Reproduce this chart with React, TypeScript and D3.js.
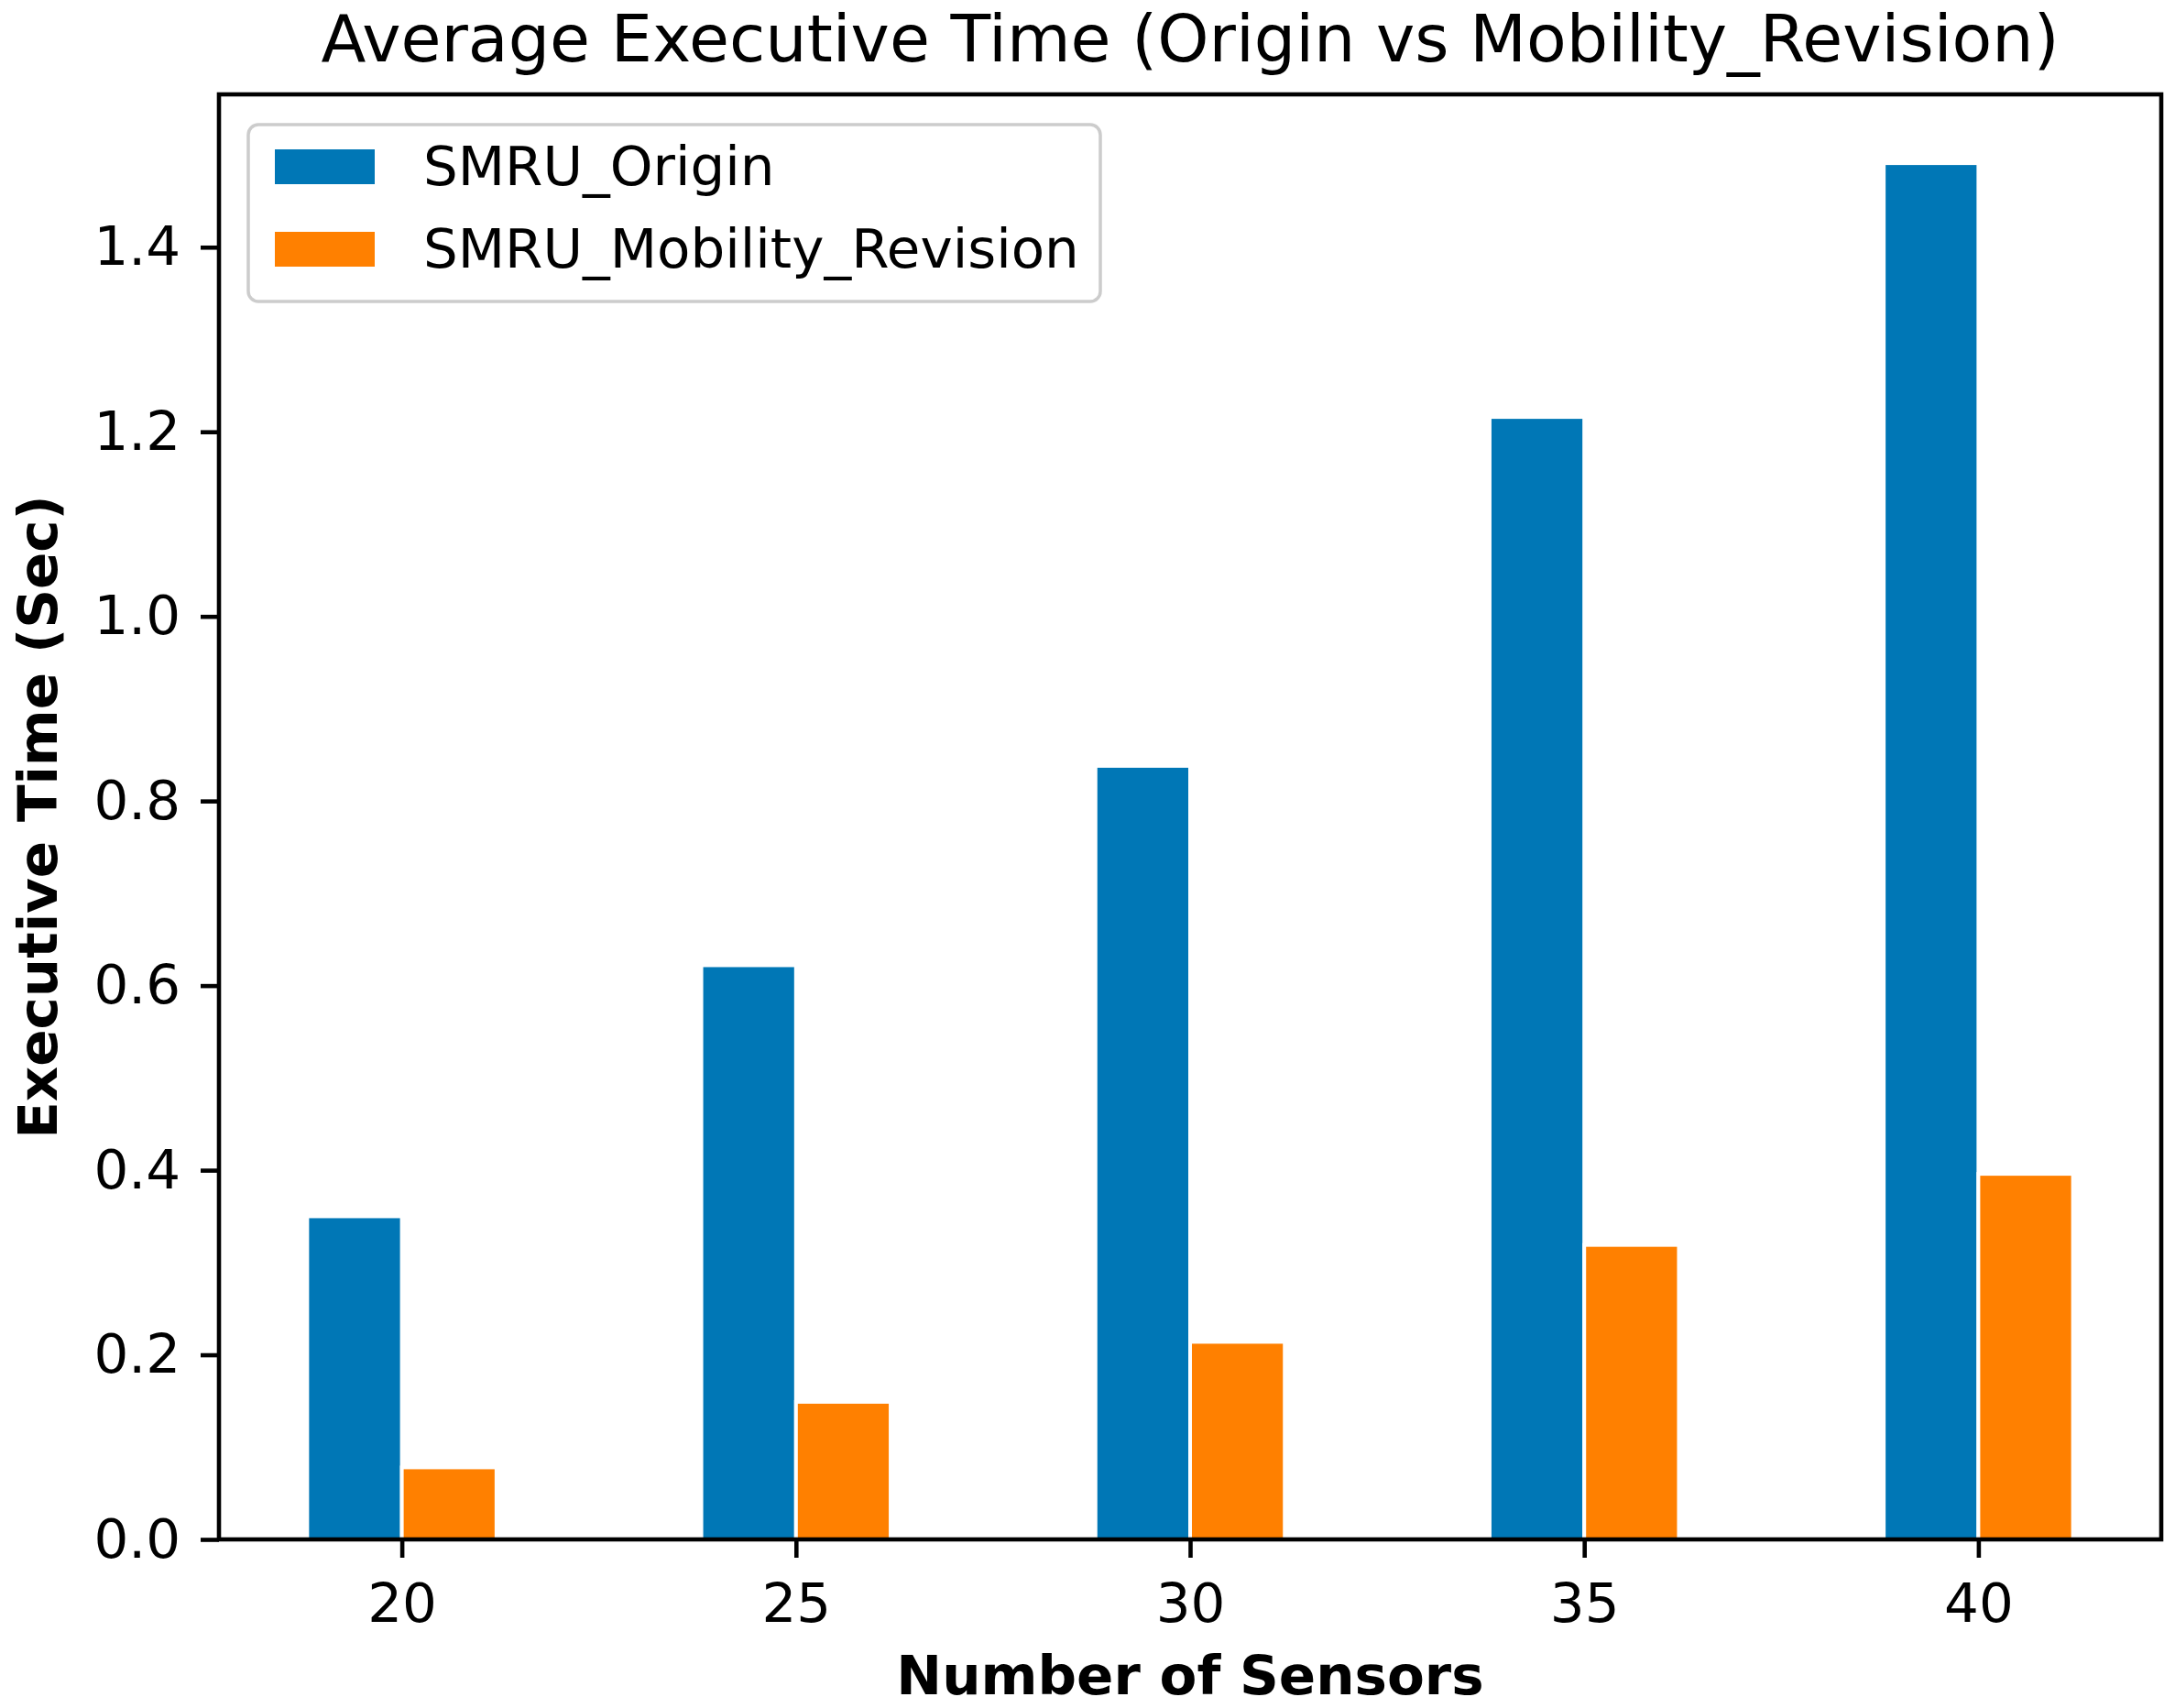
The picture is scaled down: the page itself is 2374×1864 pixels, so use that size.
import React, { useRef, useEffect } from "react";
import * as d3 from "d3";

const sensors = [20, 25, 30, 35, 40];
const originTimes = [0.35, 0.622, 0.838, 1.216, 1.491];
const mobilityTimes = [0.078, 0.149, 0.214, 0.319, 0.396];
const seriesNames = ["SMRU_Origin", "SMRU_Mobility_Revision"];
const seriesColors = ["#0077B6", "#FF8000"];
const yTicks = [0, 0.2, 0.4, 0.6, 0.8, 1.0, 1.2, 1.4];

const W = 2374;
const H = 1864;
const FONT = "DejaVu Sans";
const FS = 59.5;

const App = () => {
  const ref = useRef<SVGSVGElement | null>(null);

  useEffect(() => {
    if (!ref.current) return;
    const svg = d3.select(ref.current);
    svg.selectAll("*").remove();

    const margin = { top: 103, right: W - 2359, bottom: H - 1680, left: 239 };
    const innerW = W - margin.left - margin.right;
    const innerH = H - margin.top - margin.bottom;
    const barW = 1.2;

    // matplotlib-style 5% margins around the data
    const xMin = d3.min(sensors)! - barW;
    const xMax = d3.max(sensors)! + barW;
    const pad = (xMax - xMin) * 0.05;
    const x = d3
      .scaleLinear()
      .domain([xMin - pad, xMax + pad])
      .range([0, innerW]);

    const yMax = d3.max([...originTimes, ...mobilityTimes])! * 1.05;
    const y = d3.scaleLinear().domain([0, yMax]).range([innerH, 0]);

    const g = svg
      .append("g")
      .attr("transform", `translate(${margin.left},${margin.top})`);

    // bars: origin to the left of the tick, mobility to the right
    const series = [originTimes, mobilityTimes];
    series.forEach((vals, si) => {
      g.selectAll(`.bar-${si}`)
        .data(vals)
        .enter()
        .append("rect")
        .attr("class", `bar-${si}`)
        .attr("x", (_, i) => x(sensors[i] + (si === 0 ? -barW : 0)))
        .attr("width", x(barW) - x(0))
        .attr("y", (d) => y(d))
        .attr("height", (d) => innerH - y(d))
        .attr("fill", seriesColors[si])
        .attr("stroke", "#ffffff")
        .attr("stroke-width", 4);
    });

    // frame
    g.append("rect")
      .attr("x", 0)
      .attr("y", 0)
      .attr("width", innerW)
      .attr("height", innerH)
      .attr("fill", "none")
      .attr("stroke", "#000")
      .attr("stroke-width", 4.6);

    // x axis
    const xAxis = g
      .append("g")
      .attr("transform", `translate(0,${innerH})`)
      .call(
        d3
          .axisBottom(x)
          .tickValues(sensors)
          .tickSize(20)
          .tickPadding(28)
          .tickFormat((d) => String(d))
      );
    xAxis.select(".domain").remove();
    xAxis.selectAll(".tick line").attr("stroke", "#000").attr("stroke-width", 4.6);
    xAxis
      .selectAll("text")
      .attr("font-family", FONT)
      .attr("font-size", FS)
      .attr("fill", "#000");

    // y axis
    const yAxis = g.append("g").call(
      d3
        .axisLeft(y)
        .tickValues(yTicks)
        .tickSize(20)
        .tickPadding(22)
        .tickFormat(d3.format(".1f") as any)
    );
    yAxis.select(".domain").remove();
    yAxis.selectAll(".tick line").attr("stroke", "#000").attr("stroke-width", 4.6);
    yAxis
      .selectAll("text")
      .attr("font-family", FONT)
      .attr("font-size", FS)
      .attr("fill", "#000");

    // title
    svg
      .append("text")
      .attr("x", margin.left + innerW / 2)
      .attr("y", 67)
      .attr("text-anchor", "middle")
      .attr("font-family", FONT)
      .attr("font-size", 71.5)
      .attr("fill", "#000")
      .text("Average Executive Time (Origin vs Mobility_Revision)");

    // axis labels
    svg
      .append("text")
      .attr("x", margin.left + innerW / 2)
      .attr("y", 1849)
      .attr("text-anchor", "middle")
      .attr("font-family", FONT)
      .attr("font-weight", "bold")
      .attr("font-size", FS)
      .attr("fill", "#000")
      .text("Number of Sensors");

    svg
      .append("text")
      .attr("transform", `translate(62,${margin.top + innerH / 2}) rotate(-90)`)
      .attr("text-anchor", "middle")
      .attr("font-family", FONT)
      .attr("font-weight", "bold")
      .attr("font-size", FS)
      .attr("fill", "#000")
      .text("Executive Time (Sec)");

    // legend
    const legend = svg.append("g");
    legend
      .append("rect")
      .attr("x", 271)
      .attr("y", 136)
      .attr("width", 930)
      .attr("height", 193)
      .attr("rx", 11)
      .attr("fill", "#fff")
      .attr("fill-opacity", 0.8)
      .attr("stroke", "#cccccc")
      .attr("stroke-width", 3.5);

    seriesNames.forEach((name, i) => {
      const cy = 182 + i * 90;
      legend
        .append("rect")
        .attr("x", 300)
        .attr("y", cy - 19)
        .attr("width", 109)
        .attr("height", 38)
        .attr("fill", seriesColors[i]);
      legend
        .append("text")
        .attr("x", 462)
        .attr("y", cy + 20)
        .attr("font-family", FONT)
        .attr("font-size", FS)
        .attr("fill", "#000")
        .text(name);
    });
  }, []);

  return (
    <div style={{ position: "absolute", left: 0, top: 0 }}>
      <svg ref={ref} width={W} height={H} style={{ display: "block", background: "#fff" }} />
    </div>
  );
};

export default App;
